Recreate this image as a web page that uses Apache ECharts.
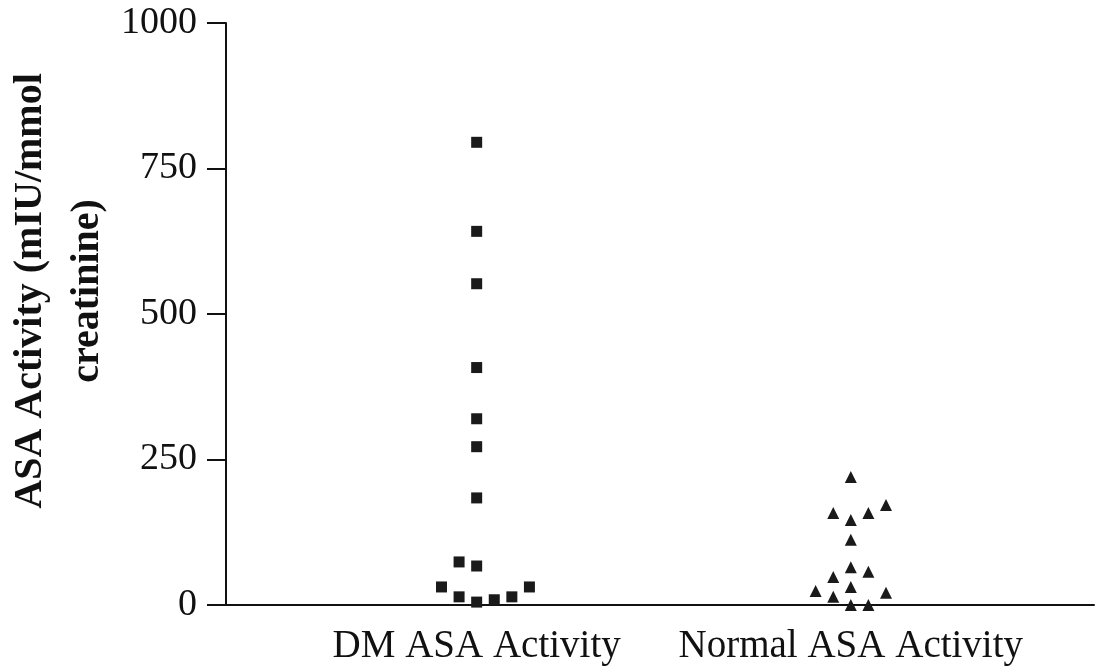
<!DOCTYPE html>
<html>
<head>
<meta charset="utf-8">
<script src="https://cdn.jsdelivr.net/npm/echarts@6/dist/echarts.min.js"></script>
<style>html,body{margin:0;padding:0;background:#fff;}#c{width:1096px;height:670px;}</style>
</head>
<body>
<div id="c"></div>
<script>
// Categories
const categories = ['DM ASA Activity', 'Normal ASA Activity'];
// Y tick labels
const yTicks = [0, 250, 500, 750, 1000];
// DM group: values and horizontal jitter slot (column offset in the dot plot)
const dmValues = [795, 642, 552, 408, 320, 272, 184, 74, 67, 31, 14, 5, 9, 14, 31];
const dmSlots  = [0,   0,   0,   0,   0,   0,   0,  -1,  0, -2, -1, 0, 1,  2,  3];
// Normal group
const normalValues = [220, 172, 158, 158, 146, 112, 65, 57, 48, 24, 31, 14, 21, 0, 0];
const normalSlots  = [0,   2,   -1,  1,   0,   0,   0,  1, -1, -2,  0, -1,  2, 0, 1];

const slotWidth = 0.047;
function build(groupIndex, values, slots) {
  return values.map((v, i) => [groupIndex + 1 + slots[i] * slotWidth, v]);
}

const font = 'Liberation Serif';
const chart = echarts.init(document.getElementById('c'));
chart.setOption({
  backgroundColor: '#fff',
  animation: false,
  grid: { left: 226, right: 2, top: 23, bottom: 65, containLabel: false, outerBoundsMode: 'none' },
  xAxis: {
    type: 'value',
    min: 0.33,
    max: 2.65,
    splitLine: { show: false },
    axisLine: { show: true, onZero: false, lineStyle: { color: '#111', width: 2 } },
    axisTick: { show: false },
    axisLabel: {
      customValues: [1, 2],
      formatter: v => categories[Math.round(v) - 1] || '',
      color: '#111',
      fontFamily: font,
      fontSize: 39,
      margin: 22
    }
  },
  yAxis: {
    type: 'value',
    min: 0,
    max: 1000,
    interval: 250,
    splitLine: { show: false },
    axisLine: { show: true, lineStyle: { color: '#111', width: 2 } },
    axisTick: { show: true, inside: false, length: 19, lineStyle: { color: '#111', width: 2 } },
    axisLabel: {
      formatter: v => yTicks.includes(v) ? String(v) : '',
      color: '#111',
      fontFamily: font,
      fontSize: 38,
      margin: 29
    },
    name: 'ASA Activity (mIU/mmol\ncreatinine)',
    nameLocation: 'middle',
    nameGap: 110,
    nameMoveOverlap: false,
    nameTextStyle: {
      color: '#111',
      fontFamily: font,
      fontWeight: 'bold',
      fontSize: 40,
      lineHeight: 57,
      padding: [0, 0, 0, 46]
    }
  },
  series: [
    {
      type: 'scatter',
      symbol: 'rect',
      symbolSize: 11,
      itemStyle: { color: '#1a1a1a', opacity: 1 },
      data: build(0, dmValues, dmSlots)
    },
    {
      type: 'scatter',
      symbol: 'triangle',
      symbolSize: 12,
      itemStyle: { color: '#1a1a1a', opacity: 1 },
      data: build(1, normalValues, normalSlots)
    }
  ]
});
</script>
</body>
</html>
